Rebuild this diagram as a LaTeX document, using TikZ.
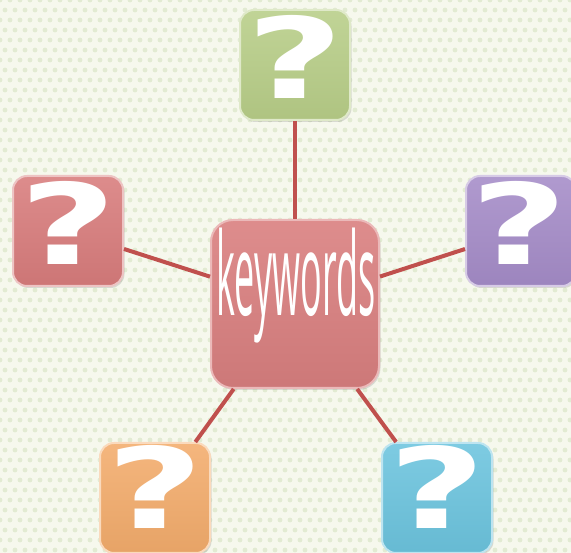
\documentclass[tikz,border=0pt]{standalone}
\usepackage{fontspec}
\setmainfont{DejaVu Sans}
\newfontfamily\kwfont{Open Sans}
\usetikzlibrary{shadows}
\definecolor{bgcol}{RGB}{246,248,237}
\definecolor{dotcol}{RGB}{226,235,210}
\definecolor{conncol}{RGB}{192,80,77}
\definecolor{qgreen}{RGB}{184,206,136}
\definecolor{qred}{RGB}{216,124,124}
\definecolor{qpurple}{RGB}{165,140,200}
\definecolor{qorange}{RGB}{243,172,108}
\definecolor{qblue}{RGB}{108,196,222}
\definecolor{ccenter}{RGB}{218,128,128}
\tikzset{
  qbox/.style={rounded corners=14pt, minimum size=110pt, inner sep=0pt,
    draw=#1!45!white, line width=2pt,
    top color=#1!88!white, bottom color=#1!95!black,
    drop shadow={opacity=0.25, shadow xshift=1.5pt, shadow yshift=-2pt}},
  cbox/.style={rounded corners=22pt, minimum size=168pt, inner sep=0pt,
    draw=ccenter!55!white, line width=2pt,
    top color=ccenter!90!white, bottom color=ccenter!94!black,
    drop shadow={opacity=0.25, shadow xshift=1.5pt, shadow yshift=-2pt}},
  qmark/.style={text=white, inner sep=0pt, font=\fontsize{112}{112}\selectfont\bfseries},
  kwtext/.style={text=white, inner sep=0pt, font=\kwfont\fontsize{36}{36}\selectfont},
  conn/.style={draw=conncol, line width=4pt}
}
\begin{document}
\begin{tikzpicture}[x=1pt,y=-1pt]
\useasboundingbox (0,0) rectangle (571,553);
\clip (0,0) rectangle (571,553);
\fill[bgcol] (0,0) rectangle (571,553);
\foreach \j in {0,...,56}{
  \foreach \i in {0,...,58}{
    \fill[dotcol] ({\i*10+mod(\j,2)*5},{\j*10}) circle (2.4pt);
  }
}
\node[qbox=qgreen] (g) at (295,65) {};
\node[qbox=qred] (r) at (68,231) {};
\node[qbox=qpurple] (p) at (521,231) {};
\node[qbox=qorange] (o) at (155,498) {};
\node[qbox=qblue] (b) at (437,498) {};
\node[cbox] (c) at (295,304) {};
\draw[conn] (c) -- (g);
\draw[conn] (c) -- (r);
\draw[conn] (c) -- (p);
\draw[conn] (c) -- (o);
\draw[conn] (c) -- (b);
\node[qmark] (gq) at (295,57) {\scalebox{1.5}[1]{?}};
\node[qmark] (rq) at (68,223) {\scalebox{1.5}[1]{?}};
\node[qmark] (pq) at (519,223) {\scalebox{1.5}[1]{?}};
\node[qmark] (oq) at (155,487) {\scalebox{1.5}[1]{?}};
\node[qmark] (bq) at (437,487) {\scalebox{1.5}[1]{?}};
\node[kwtext] (kw) at (296,286) {\scalebox{1}[3.2]{keywords}};
\end{tikzpicture}
\end{document}
